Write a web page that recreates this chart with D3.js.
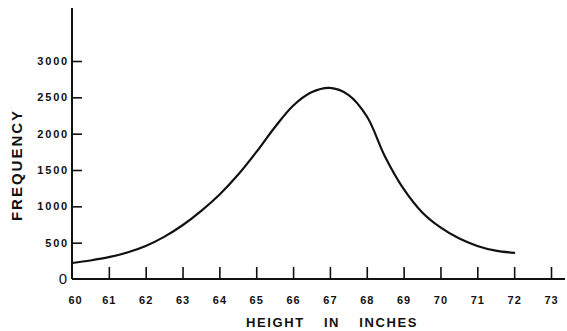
<!DOCTYPE html>
<html>
<head>
<meta charset="utf-8">
<script src="https://cdn.jsdelivr.net/npm/d3@7"></script>
<style>
  html, body { margin: 0; padding: 0; background: #fff; }
  svg { display: block; }
  text { font-family: "Liberation Sans", Arial, sans-serif; fill: #111; }
</style>
</head>
<body>
<svg id="chart" width="567" height="331"></svg>
<script>
// Height (inches) and frequency of the smoothed distribution curve
const heights = [60, 60.5, 61, 61.5, 62, 62.5, 63, 63.5, 64, 64.5, 65, 65.5, 66, 66.5, 67, 67.5, 68, 68.5, 69, 69.5, 70, 70.5, 71, 71.5, 72];
const frequencies = [220, 255, 300, 365, 455, 580, 740, 935, 1160, 1430, 1745, 2085, 2385, 2570, 2630, 2535, 2240, 1680, 1240, 920, 710, 560, 455, 390, 360];

// Axis ticks
const xTicks = [60, 61, 62, 63, 64, 65, 66, 67, 68, 69, 70, 71, 72, 73];
const yTicks = [500, 1000, 1500, 2000, 2500, 3000];

const xTitle = "HEIGHT IN INCHES";
const yTitle = "FREQUENCY";

const svg = d3.select("#chart");
const ink = "#111";

const x = d3.scaleLinear().domain([60, 73]).range([72, 551]);
const y = d3.scaleLinear().domain([0, 3000]).range([279, 61]);

// Axis lines (extend beyond the tick range)
svg.append("line")
  .attr("x1", x(60)).attr("x2", 565)
  .attr("y1", y(0)).attr("y2", y(0))
  .attr("stroke", ink).attr("stroke-width", 2);
svg.append("line")
  .attr("x1", x(60)).attr("x2", x(60))
  .attr("y1", y(0)).attr("y2", 8)
  .attr("stroke", ink).attr("stroke-width", 2);

// X axis: ticks pointing up, labels below
const xAxis = d3.axisBottom(x)
  .tickValues(xTicks)
  .tickSize(-12)
  .tickPadding(17)
  .tickFormat(d3.format("d"));
const gx = svg.append("g").attr("transform", `translate(0,${y(0)})`).call(xAxis);
gx.select(".domain").remove();
gx.selectAll(".tick line").attr("stroke", ink).attr("stroke-width", 1.6)
  .filter(d => d === 60).remove();
gx.selectAll(".tick text")
  .attr("font-size", 11).attr("font-weight", "bold")
  .attr("letter-spacing", "1px")
  .attr("font-family", "Liberation Sans, Arial, sans-serif")
  .attr("fill", ink)
  .attr("dx", d => d === 60 ? 3 : 0);

// Y axis: ticks pointing right, labels to the left
const yAxis = d3.axisLeft(y)
  .tickValues(yTicks)
  .tickSize(-10)
  .tickPadding(3)
  .tickFormat(d3.format("d"));
const gy = svg.append("g").attr("transform", `translate(${x(60)},0)`).call(yAxis);
gy.select(".domain").remove();
gy.selectAll(".tick line").attr("stroke", ink).attr("stroke-width", 1.6);
gy.selectAll(".tick text")
  .attr("font-size", 11).attr("font-weight", "bold")
  .attr("letter-spacing", "1.8px")
  .attr("font-family", "Liberation Sans, Arial, sans-serif")
  .attr("fill", ink);

// Origin label
svg.append("text")
  .attr("x", x(60) - 9).attr("y", y(0) + 5)
  .attr("text-anchor", "middle")
  .attr("font-size", 15)
  .text("0");

// Distribution curve
const line = d3.line()
  .x((d, i) => x(heights[i]))
  .y(d => y(d))
  .curve(d3.curveCatmullRom.alpha(0.5));
svg.append("path")
  .datum(frequencies)
  .attr("d", line)
  .attr("fill", "none")
  .attr("stroke", ink)
  .attr("stroke-width", 2.2)
  .attr("stroke-linecap", "round");

// Axis titles
svg.append("text")
  .attr("x", 332).attr("y", 327)
  .attr("text-anchor", "middle")
  .attr("font-size", 13).attr("font-weight", "bold")
  .style("letter-spacing", "1.6px")
  .style("word-spacing", "14px")
  .text(xTitle);

svg.append("text")
  .attr("transform", "translate(22,165) rotate(-90)")
  .attr("text-anchor", "middle")
  .attr("font-size", 15).attr("font-weight", "bold")
  .style("letter-spacing", "2px")
  .text(yTitle);
</script>
</body>
</html>
